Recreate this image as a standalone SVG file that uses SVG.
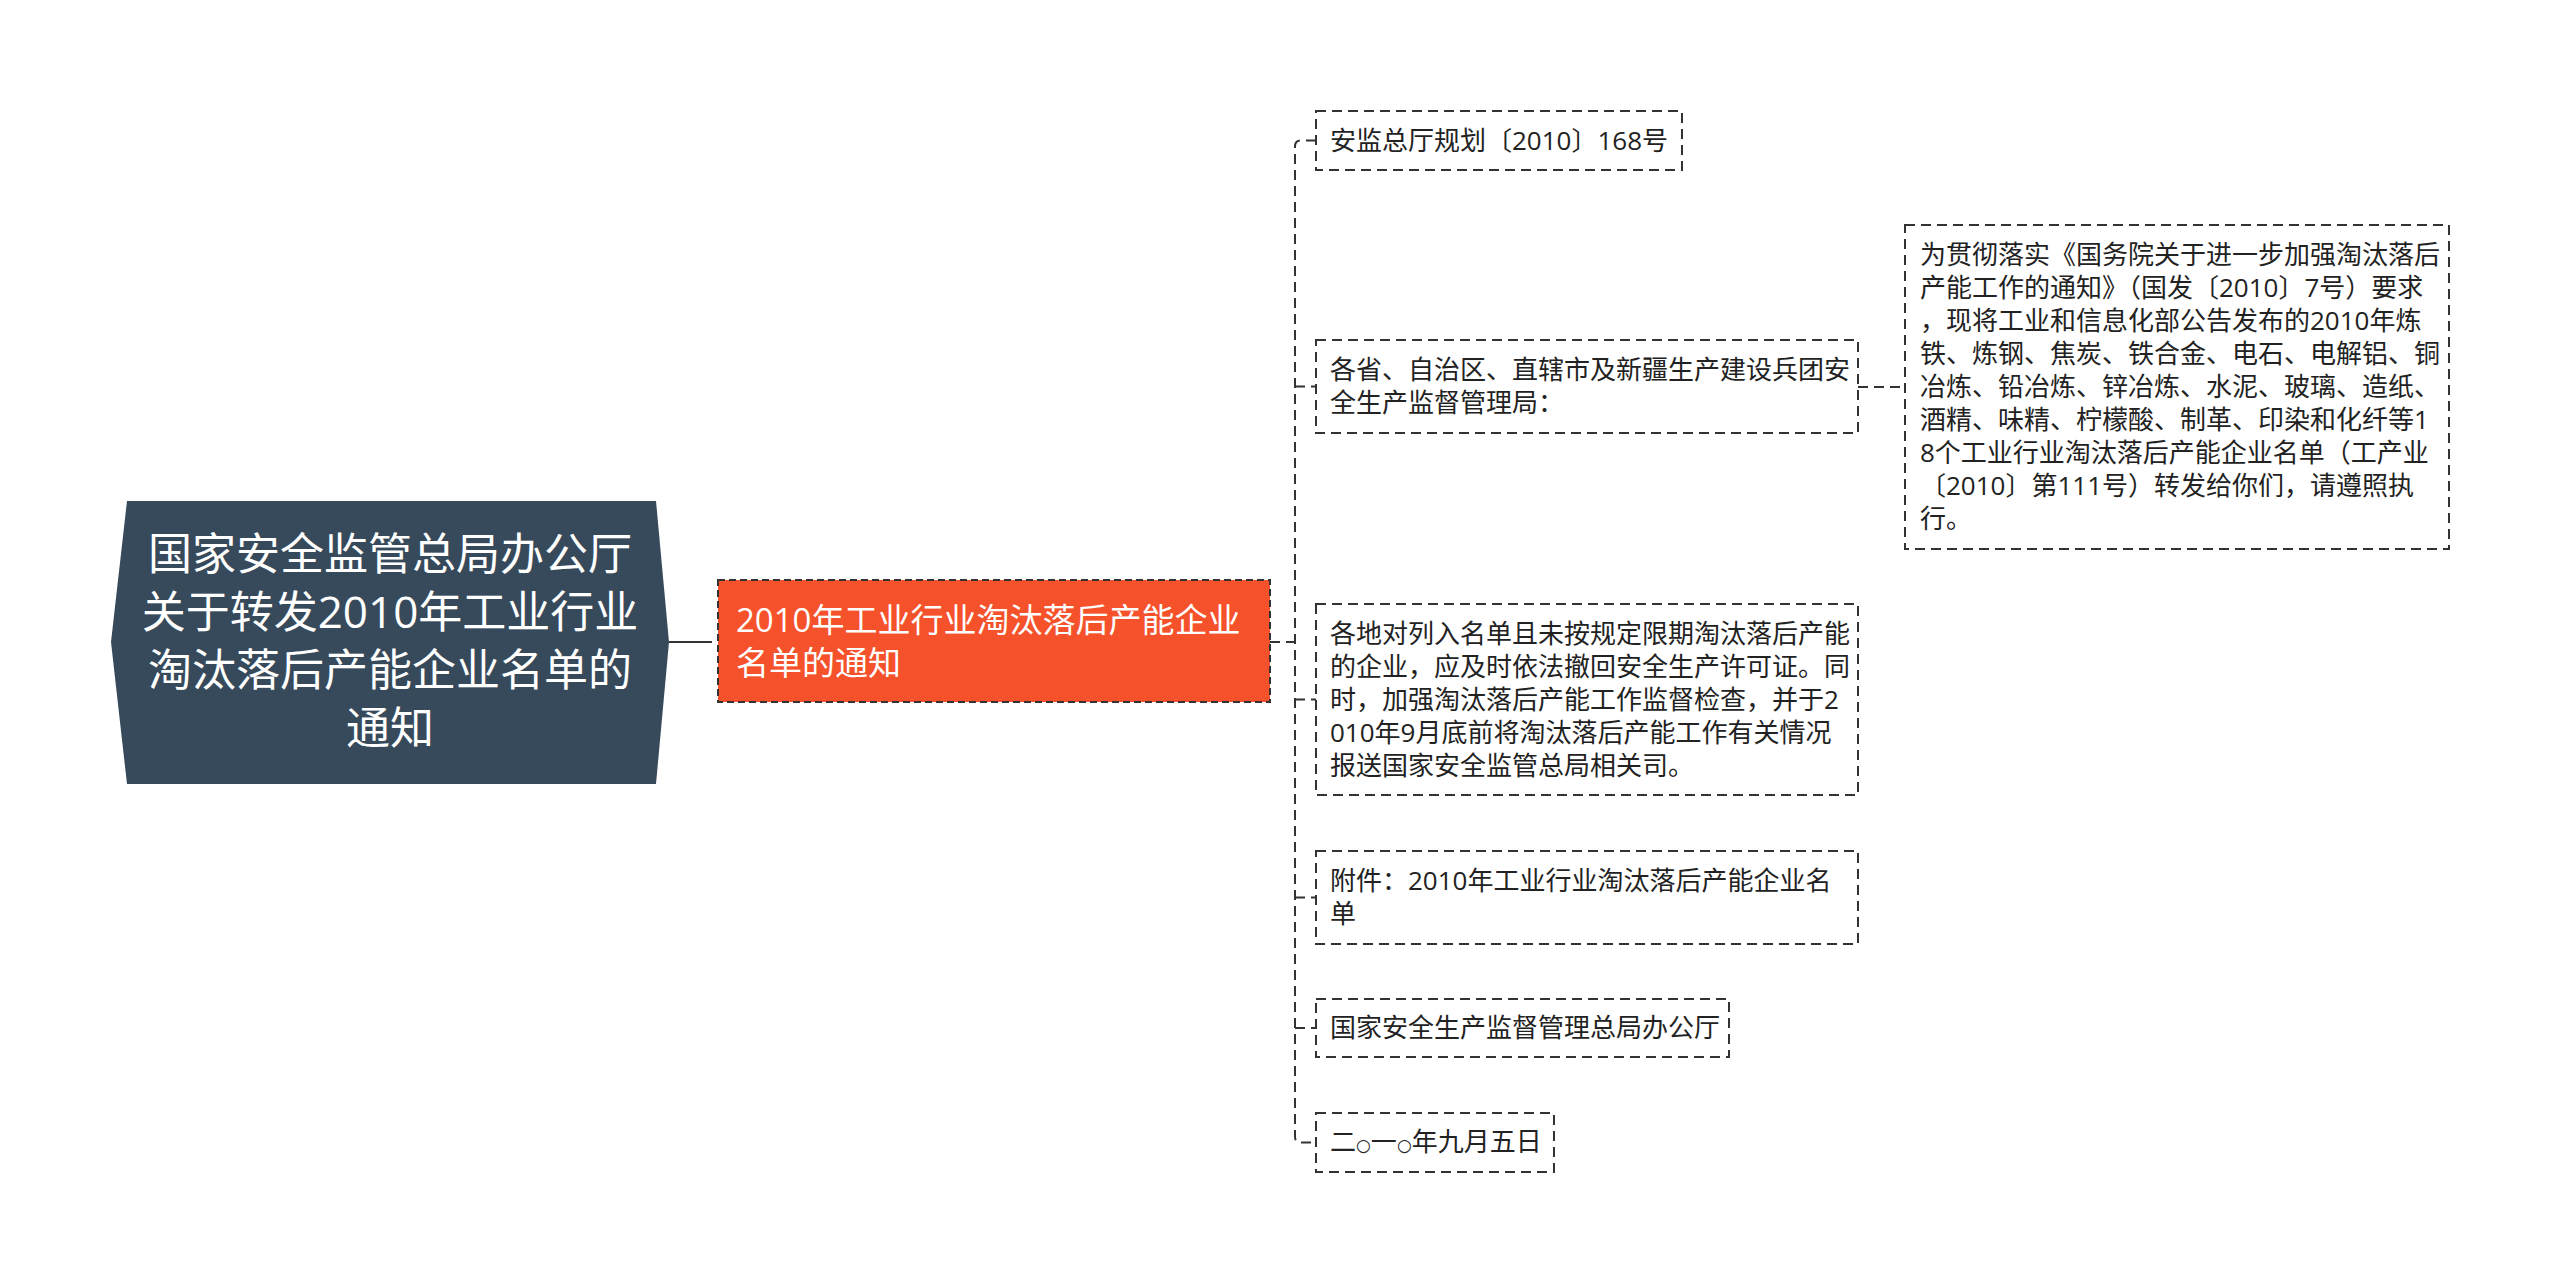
<svg xmlns="http://www.w3.org/2000/svg" width="2560" height="1284" viewBox="0 0 2560 1284">
<style>
.bg{fill:#ffffff}
.box{fill:#ffffff;stroke:#333333;stroke-width:2;stroke-dasharray:10 6}
.main{fill:#f5512a;stroke:#333333;stroke-width:2;stroke-dasharray:7 4}
.root{fill:#374a5b}
.t{font-family:"Open Sans","Noto Sans CJK SC",sans-serif;font-size:26px;fill:#222222}
.tm{font-family:"Open Sans","Noto Sans CJK SC",sans-serif;font-size:33px;fill:#ffffff}
.tr{font-family:"Open Sans","Noto Sans CJK SC",sans-serif;font-size:44px;fill:#ffffff;text-anchor:middle}
.sm{font-family:"DejaVu Sans",sans-serif;font-size:17px}
.c{fill:none;stroke:#333333;stroke-width:2;stroke-dasharray:10 6}
.cs{fill:none;stroke:#333333;stroke-width:2}
</style>
<rect class="bg" x="0" y="0" width="2560" height="1284"/>
<g id="connectors">
<path class="cs" d="M669,642 H702"/>
<path class="c" d="M702,642 H718"/>
<path class="c" d="M1270,642 H1295"/>
<path class="c" d="M1316,140.5 H1301 Q1295,140.5 1295,146.5 V1136.5 Q1295,1142.5 1301,1142.5 H1316"/>
<path class="c" d="M1295,386.5 H1316"/>
<path class="c" d="M1295,699.5 H1316"/>
<path class="c" d="M1295,897.5 H1316"/>
<path class="c" d="M1295,1028 H1316"/>
<path class="c" d="M1858,387 H1905"/>
</g>
<g id="root">
<polygon class="root" points="127,501 656,501 669,642 656,784 127,784 111,642"/>
<text class="tr" x="390" y="570">国家安全监管总局办公厅<tspan x="390" dy="58">关于转发2010年工业行业</tspan><tspan x="390" dy="58">淘汰落后产能企业名单的</tspan><tspan x="390" dy="58">通知</tspan></text>
</g>
<g id="main">
<rect class="main" x="718" y="580" width="552" height="122"/>
<text class="tm" x="736" y="632">2010年工业行业淘汰落后产能企业<tspan x="736" dy="43">名单的通知</tspan></text>
</g>
<g id="n1">
<rect class="box" x="1316" y="111" width="366" height="59"/>
<text class="t" x="1330" y="150">安监总厅规划〔2010〕168号</text>
</g>
<g id="n2">
<rect class="box" x="1316" y="340" width="542" height="93"/>
<text class="t" x="1330" y="379">各省、自治区、直辖市及新疆生产建设兵团安<tspan x="1330" dy="33">全生产监督管理局：</tspan></text>
</g>
<g id="n2a">
<rect class="box" x="1905" y="225" width="544" height="324"/>
<text class="t" x="1920" y="264">为贯彻落实《国务院关于进一步加强淘汰落后<tspan x="1920" dy="33">产能工作的通知》（国发〔2010〕7号）要求</tspan><tspan x="1920" dy="33">，现将工业和信息化部公告发布的2010年炼</tspan><tspan x="1920" dy="33">铁、炼钢、焦炭、铁合金、电石、电解铝、铜</tspan><tspan x="1920" dy="33">冶炼、铅冶炼、锌冶炼、水泥、玻璃、造纸、</tspan><tspan x="1920" dy="33">酒精、味精、柠檬酸、制革、印染和化纤等1</tspan><tspan x="1920" dy="33">8个工业行业淘汰落后产能企业名单（工产业</tspan><tspan x="1920" dy="33">〔2010〕第111号）转发给你们，请遵照执</tspan><tspan x="1920" dy="33">行。</tspan></text>
</g>
<g id="n3">
<rect class="box" x="1316" y="604" width="542" height="191"/>
<text class="t" x="1330" y="643">各地对列入名单且未按规定限期淘汰落后产能<tspan x="1330" dy="33">的企业，应及时依法撤回安全生产许可证。同</tspan><tspan x="1330" dy="33">时，加强淘汰落后产能工作监督检查，并于2</tspan><tspan x="1330" dy="33">010年9月底前将淘汰落后产能工作有关情况</tspan><tspan x="1330" dy="33">报送国家安全监管总局相关司。</tspan></text>
</g>
<g id="n4">
<rect class="box" x="1316" y="851" width="542" height="93"/>
<text class="t" x="1330" y="890">附件：2010年工业行业淘汰落后产能企业名<tspan x="1330" dy="33">单</tspan></text>
</g>
<g id="n5">
<rect class="box" x="1316" y="999" width="413" height="58"/>
<text class="t" x="1330" y="1037">国家安全生产监督管理总局办公厅</text>
</g>
<g id="n6">
<rect class="box" x="1316" y="1113" width="238" height="59"/>
<text class="t" x="1330" y="1151">二<tspan class="sm">○</tspan>一<tspan class="sm">○</tspan>年九月五日</text>
</g>
</svg>
